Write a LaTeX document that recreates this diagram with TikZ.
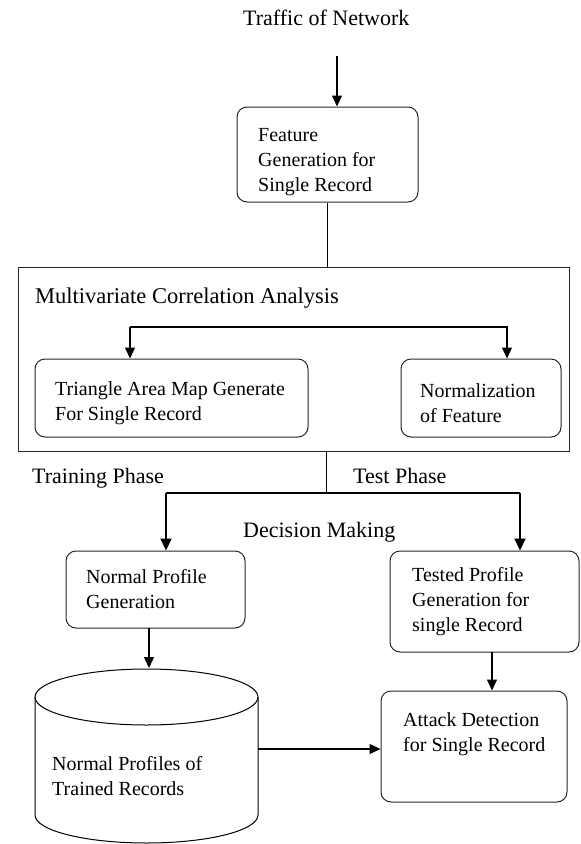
\documentclass[tikz,border=0pt]{standalone}
\usepackage{fontspec}
\setmainfont{Liberation Serif}
\usetikzlibrary{arrows.meta}
\newcommand\boxfont{\fontsize{20}{25}\selectfont}
\newcommand\lblfont{\fontsize{22}{26}\selectfont}
\tikzset{
  box/.style={draw=black!85, line width=1pt, rounded corners=10pt, inner sep=0pt},
  frame/.style={draw=black!85, line width=1pt, inner sep=0pt},
  lbl/.style={font=\lblfont, inner sep=0pt, anchor=base west},
  txt/.style={font=\boxfont, inner sep=0pt, align=left, anchor=north west},
  intxt/.style={font=\boxfont, inner sep=0pt, align=left, anchor=west},
  arr/.style={line width=1.3pt, -{Triangle[length=11pt,width=10pt]}},
  thickarr/.style={line width=2pt, -{Triangle[length=12pt,width=11pt]}},
  ln/.style={line width=1pt},
}
\begin{document}
\begin{tikzpicture}[x=1pt,y=-1pt]
\useasboundingbox (0,0) rectangle (581,844);
% title
\node[lbl] (title) at (243,25) {Traffic of Network};
\coordinate (in1) at (337,56);
% feature box
\node[box, minimum width=181pt, minimum height=95pt] (feat) at (327.5,154.5) {};
\node[intxt] (feattxt) at (258,162) {Feature\\Generation for\\Single Record};
\draw[arr] (in1) -- (in1 |- feat.north);
% MCA frame
\node[frame, minimum width=550.5pt, minimum height=184pt] (mca) at (293.75,359) {};
\draw[ln] (feat.south) -- (feat.south |- mca.north);
\node[lbl] (mcalbl) at (35,303) {\fontsize{22.5}{26}\selectfont Multivariate Correlation Analysis};
\node[box, minimum width=273pt, minimum height=78pt] (tri) at (171.5,398) {};
\node[intxt] (tritxt) at (55,403) {Triangle Area Map Generate\\For Single Record};
\node[box, minimum width=160pt, minimum height=78pt] (norm) at (481,398) {};
\node[intxt] (normtxt) at (420,403) {Normalization\\of Feature};
\coordinate (b1) at (130,327);
\coordinate (b2) at (507,327);
\draw[arr] (b1) -- (b1 |- tri.north);
\draw[arr] (b1) -- (b2) -- (b2 |- norm.north);
% phases
\coordinate (j0) at (326,493);
\coordinate (jl) at (166,493);
\coordinate (jr) at (520,493);
\draw[ln] (mca.south -| j0) -- (j0);
\node[lbl] (train) at (32,483) {Training Phase};
\node[lbl] (test) at (353,483) {Test Phase};
\node[lbl] (dec) at (243,537) {Decision Making};
\node[box, minimum width=179pt, minimum height=77pt] (npg) at (155.5,589.5) {};
\node[intxt] (npgtxt) at (86,589) {Normal Profile\\Generation};
\node[box, minimum width=189pt, minimum height=101pt] (tpg) at (484.5,601.5) {};
\node[intxt] (tpgtxt) at (412,602) {Tested Profile\\Generation for\\single Record};
\draw[line width=2pt] (jl) -- (jr);
\draw[thickarr] (jl) -- (jl |- npg.north);
\draw[thickarr] (jr) -- (jr |- tpg.north);
% cylinder
\node[minimum width=223pt, minimum height=175pt, inner sep=0pt] (cyl) at (146.5,756) {};
\draw[ln] (146.5,697) ellipse [x radius=111.5pt, y radius=28pt];
\draw[ln] (35,697) -- (35,815) arc[start angle=180, end angle=360, x radius=111.5pt, y radius=28pt] -- (258,697);
\node[txt] (cyltxt) at (52,756) {Normal Profiles of\\Trained Records};
\coordinate (c1) at (149,628);
\draw[arr] (c1) -- (149,668);
% attack
\node[box, minimum width=186pt, minimum height=111pt] (att) at (474,746.5) {};
\node[txt] (atttxt) at (403,712) {Attack Detection\\for Single Record};
\coordinate (t1) at (492,652);
\draw[arr] (t1) -- (t1 |- att.north);
\coordinate (cy1) at (258,749);
\draw[arr] (cy1) -- (cy1 -| att.west);
\end{tikzpicture}
\end{document}
